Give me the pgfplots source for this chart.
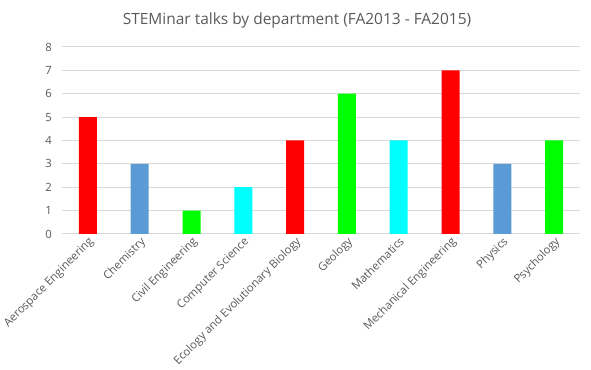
\documentclass[border=0pt]{standalone}
\usepackage{pgfplots}
\pgfplotsset{compat=1.18}
\usepackage{fontspec}
\setmainfont{Open Sans}
\definecolor{txt}{HTML}{595959}
\definecolor{gridc}{HTML}{D9D9D9}
\definecolor{cred}{HTML}{FF0000}
\definecolor{cblue}{HTML}{5B9BD5}
\definecolor{cgreen}{HTML}{00FF00}
\definecolor{ccyan}{HTML}{00FFFF}
\begin{document}
\begin{tikzpicture}
\useasboundingbox (0,0) rectangle (443.25pt,277.5pt);
\node[text=txt, font=\fontsize{11.6}{14}\selectfont] at (222.75pt,262.5pt) {STEMinar talks by department (FA2013 - FA2015)};
\begin{axis}[
  at={(46.5pt,102pt)}, anchor=south west,
  scale only axis, width=388.5pt, height=140.25pt,
  xmin=-0.5, xmax=9.5, ymin=0, ymax=8,
  ytick={0,...,8},
  xtick={0,...,9},
  xticklabels={Aerospace Engineering,Chemistry,Civil Engineering,Computer Science,Ecology and Evolutionary Biology,Geology,Mathematics,Mechanical Engineering,Physics,Psychology},
  xticklabel style={rotate=45, anchor=north east, inner sep=1pt, font=\fontsize{8.5}{10}\selectfont, text=txt},
  yticklabel style={font=\fontsize{8.5}{10}\selectfont, text=txt, xshift=-4pt},
  /pgf/number format/assume math mode=true,
  axis x line*=bottom, axis y line*=left,
  x axis line style={draw=gridc, line width=0.75pt, -},
  y axis line style={draw=none},
  ymajorgrids, xmajorgrids=false, grid style={draw=gridc, line width=0.75pt},
  major tick length=0pt,
  ybar, bar width=18pt*0.75, bar shift=0pt,
  every axis plot/.append style={draw=none},
]
\addplot[fill=cred] coordinates {(0,5) (4,4) (7,7)};
\addplot[fill=cblue] coordinates {(1,3) (8,3)};
\addplot[fill=cgreen] coordinates {(2,1) (5,6) (9,4)};
\addplot[fill=ccyan] coordinates {(3,2) (6,4)};
\end{axis}
\end{tikzpicture}
\end{document}
